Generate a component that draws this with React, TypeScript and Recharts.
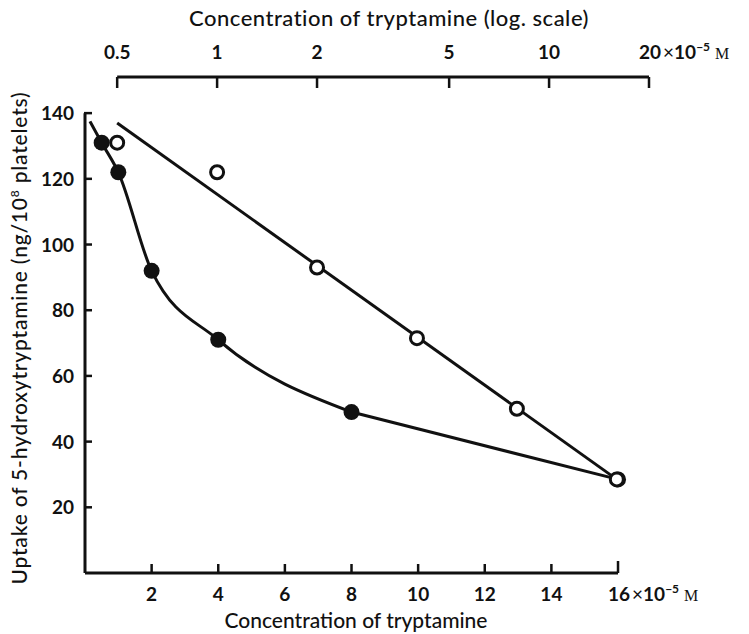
import React from "react"
import {
  ComposedChart,
  Line,
  Scatter,
  XAxis,
  YAxis,
  ReferenceLine,
  Label,
} from "recharts"

// tryptamine concentration (x10^-5 M) and 5-HT uptake (ng/10^8 platelets)
const concentrations = [0.5, 1, 2, 4, 8, 16]
const uptakeLinear = [131, 122, 92, 71, 49, 28.5]
const uptakeLog = [131, 122, 93, 71.5, 50, 28.5]

// hand-drawn curve through the filled points starts a little left of the first point
const curveStartConc = 0.15
const curveStartUptake = 137.5

// straight line drawn through the open points (log scale)
const fitConc = [0.5, 16]
const fitUptake = [137, 28.5]

const bottomTicks = [2, 4, 6, 8, 10, 12, 14, 16]
const topTicks = [0.5, 1, 2, 5, 10, 20]
const yTicks = [20, 40, 60, 80, 100, 120, 140]

const FONT = "Lato, 'Open Sans', sans-serif"
const INK = "#111"

const filledData = concentrations.map((c, i) => ({ x: c, y: uptakeLinear[i] }))
// curved part up to 8, then the drawn line runs straight to 16
const curveData = [{ x: curveStartConc, y: curveStartUptake }, ...filledData.slice(0, 5)]
const tailData = filledData.slice(4)
const openData = concentrations.map((c, i) => ({ x: c, y: uptakeLog[i] }))
const fitData = fitConc.map((c, i) => ({ x: c, y: fitUptake[i] }))

function Units({ x, y, value }: { x: number; y: number; value: number }) {
  return (
    <text x={x - 10} y={y} fill={INK} fontFamily={FONT} fontSize={19} fontWeight={700}>
      {value}
      <tspan dx={2} fontWeight={400}>×</tspan>
      <tspan>10</tspan>
      <tspan dy={-8} fontSize={12}>
        −5
      </tspan>
      <tspan dy={8} dx={5} fontFamily="'Liberation Serif', serif" fontSize={16} fontWeight={400}>
        M
      </tspan>
    </text>
  )
}

function BottomTick(props: any) {
  const { x, y, payload } = props
  const v = payload.value
  const last = v === bottomTicks[bottomTicks.length - 1]
  return (
    <g>
      <line x1={x} x2={x} y1={y} y2={y - (last ? 12 : 9)} stroke={INK} strokeWidth={2.5} />
      {last ? (
        <Units x={x} y={y + 28} value={v} />
      ) : (
        <text x={x} y={y + 28} textAnchor="middle" fill={INK} fontFamily={FONT} fontSize={19} fontWeight={700}>
          {v}
        </text>
      )}
    </g>
  )
}

function TopTick(props: any) {
  const { x, y, payload } = props
  const v = payload.value
  const last = v === topTicks[topTicks.length - 1]
  return (
    <g>
      <line x1={x} x2={x} y1={y} y2={y + 11} stroke={INK} strokeWidth={2.5} />
      {last ? (
        <Units x={x} y={y - 18} value={v} />
      ) : (
        <text x={x} y={y - 18} textAnchor="middle" fill={INK} fontFamily={FONT} fontSize={19} fontWeight={700}>
          {v}
        </text>
      )}
    </g>
  )
}

function LeftTick(props: any) {
  const { x, y, payload } = props
  return (
    <g>
      <line x1={x - 1} x2={x + 7} y1={y} y2={y} stroke={INK} strokeWidth={2.5} />
      <text x={x - 11} y={y + 7} textAnchor="end" fill={INK} fontFamily={FONT} fontSize={19} fontWeight={700}>
        {payload.value}
      </text>
    </g>
  )
}

const dotFilled = (p: any) => <circle cx={p.cx} cy={p.cy} r={8} fill={INK} />
const dotOpen = (p: any) => <circle cx={p.cx} cy={p.cy} r={6.5} fill="#fff" stroke={INK} strokeWidth={3} />

export default function App() {
  return (
    <div style={{ position: "absolute", left: 0, top: 0, width: 749, height: 634, background: "#fff" }}>
      <ComposedChart width={749} height={634} margin={{ top: 47, right: 100, bottom: 31, left: 25 }}>
        <XAxis
          xAxisId="bottom"
          type="number"
          dataKey="x"
          domain={[0, 16.93]}
          allowDataOverflow
          ticks={bottomTicks}
          tick={<BottomTick />}
          tickLine={false}
          tickSize={0}
          tickMargin={0}
          axisLine={false}
          height={30}
          interval={0}
        >
          <Label
            content={() => (
              <text x={356} y={628} textAnchor="middle" fill={INK} fontFamily={FONT} fontSize={21} fontWeight={500}>
                Concentration of tryptamine
              </text>
            )}
          />
        </XAxis>
        <XAxis
          xAxisId="top"
          orientation="top"
          type="number"
          dataKey="x"
          scale="log"
          domain={[0.4, 20]}
          allowDataOverflow
          ticks={topTicks}
          tick={<TopTick />}
          tickLine={false}
          tickSize={0}
          tickMargin={0}
          axisLine={false}
          height={30}
          interval={0}
        >
          <Label
            content={() => (
              <text
                x={389}
                y={26}
                textAnchor="middle"
                fill={INK}
                fontFamily={FONT}
                fontSize={22}
                fontWeight={500}
                letterSpacing={0.5}
              >
                Concentration of tryptamine (log. scale)
              </text>
            )}
          />
        </XAxis>
        <YAxis
          yAxisId="y"
          type="number"
          domain={[0, 151]}
          allowDataOverflow
          ticks={yTicks}
          tick={<LeftTick />}
          tickLine={false}
          tickSize={0}
          tickMargin={0}
          axisLine={false}
          width={60}
          interval={0}
        >
          <Label
            content={() => (
              <text
                x={27}
                y={338}
                transform="rotate(-90 27 338)"
                textAnchor="middle"
                fill={INK}
                fontFamily={FONT}
                fontSize={21}
                fontWeight={500}
                letterSpacing={0.8}
              >
                Uptake of 5-hydroxytryptamine (ng/10
                <tspan dy={-8} fontSize={12}>
                  8
                </tspan>
                <tspan dy={8}> platelets)</tspan>
              </text>
            )}
          />
        </YAxis>

        {/* axis lines drawn only over their labelled ranges */}
        <ReferenceLine
          xAxisId="bottom"
          yAxisId="y"
          segment={[
            { x: 0, y: 0 },
            { x: bottomTicks[bottomTicks.length - 1], y: 0 },
          ]}
          stroke={INK}
          strokeWidth={3}
          ifOverflow="visible"
        />
        <ReferenceLine
          xAxisId="bottom"
          yAxisId="y"
          segment={[
            { x: 0, y: 0 },
            { x: 0, y: yTicks[yTicks.length - 1] },
          ]}
          stroke={INK}
          strokeWidth={3}
          ifOverflow="visible"
        />
        <ReferenceLine
          xAxisId="top"
          yAxisId="y"
          segment={[
            { x: topTicks[0], y: 151 },
            { x: topTicks[topTicks.length - 1], y: 151 },
          ]}
          stroke={INK}
          strokeWidth={3}
          ifOverflow="visible"
        />

        <Line
          xAxisId="bottom"
          yAxisId="y"
          data={curveData}
          dataKey="y"
          type="monotone"
          stroke={INK}
          strokeWidth={3}
          dot={false}
          isAnimationActive={false}
        />
        <Line
          xAxisId="bottom"
          yAxisId="y"
          data={tailData}
          dataKey="y"
          type="linear"
          stroke={INK}
          strokeWidth={3}
          dot={false}
          isAnimationActive={false}
        />
        <Line
          xAxisId="top"
          yAxisId="y"
          data={fitData}
          dataKey="y"
          type="linear"
          stroke={INK}
          strokeWidth={3}
          dot={false}
          isAnimationActive={false}
        />
        <Scatter
          xAxisId="bottom"
          yAxisId="y"
          data={filledData}
          dataKey="y"
          shape={dotFilled}
          isAnimationActive={false}
        />
        <Scatter
          xAxisId="top"
          yAxisId="y"
          data={openData}
          dataKey="y"
          shape={dotOpen}
          isAnimationActive={false}
        />
      </ComposedChart>
    </div>
  )
}
